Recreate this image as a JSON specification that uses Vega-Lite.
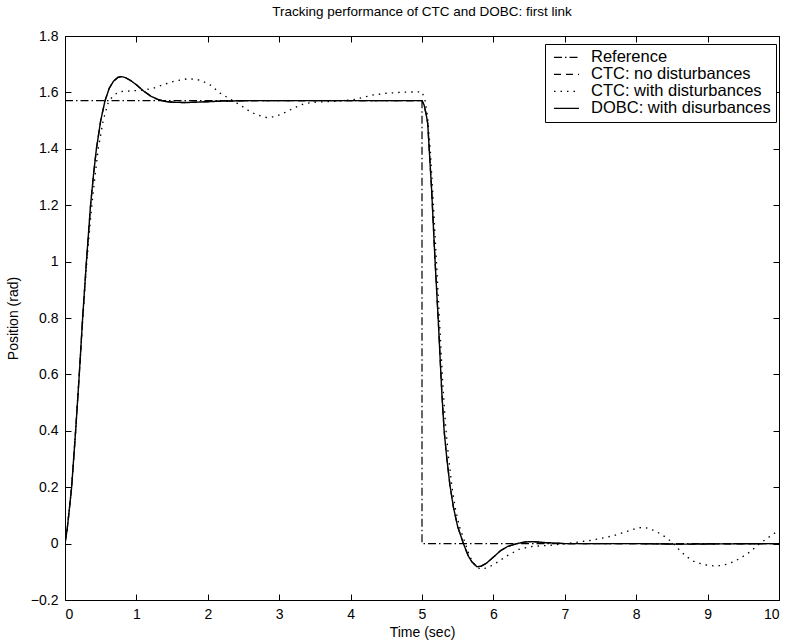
{
  "$schema": "https://vega.github.io/schema/vega-lite/v6.json",
  "width": 714,
  "height": 564,
  "autosize": {"type": "none"},
  "padding": {"left": 65, "top": 36, "right": 8, "bottom": 42},
  "background": "white",
  "title": {"text": "Tracking performance of CTC and DOBC: first link", "font": "Liberation Sans", "fontSize": 13.5, "fontWeight": "normal", "color": "black", "offset": 11},
  "config": {
    "view": {"stroke": null},
    "axis": {"grid": false, "domainColor": "black", "domainWidth": 1, "tickColor": "black", "tickSize": -6, "tickWidth": 1, "labelColor": "black", "labelFont": "Liberation Sans", "labelFontSize": 14, "labelPadding": 13, "titleFont": "Liberation Sans", "titleFontSize": 14, "titleFontWeight": "normal", "titleColor": "black"},
    "legend": {"orient": "none", "legendX": 480, "legendY": 8, "strokeColor": "black", "fillColor": "white", "padding": 5, "symbolType": "stroke", "symbolSize": 625, "symbolStrokeColor": "black", "symbolOpacity": 1, "labelFont": "Liberation Sans", "labelFontSize": 16.5, "labelColor": "black", "labelOffset": 11, "rowPadding": 0, "clipHeight": 16.7, "symbolOffset": 3, "labelLimit": 300, "cornerRadius": 0}
  },
  "data": {"values": [
    {"s": "Reference", "t": 0, "v": 1.5708},
    {"s": "Reference", "t": 5, "v": 1.5708},
    {"s": "Reference", "t": 5, "v": 0},
    {"s": "Reference", "t": 10, "v": 0},

    {"s": "CTC: no disturbances", "t": 0, "v": 0},
    {"s": "CTC: no disturbances", "t": 0.03, "v": 0.05},
    {"s": "CTC: no disturbances", "t": 0.06, "v": 0.12},
    {"s": "CTC: no disturbances", "t": 0.093, "v": 0.2},
    {"s": "CTC: no disturbances", "t": 0.149, "v": 0.4},
    {"s": "CTC: no disturbances", "t": 0.2, "v": 0.6},
    {"s": "CTC: no disturbances", "t": 0.247, "v": 0.8},
    {"s": "CTC: no disturbances", "t": 0.3, "v": 1.0},
    {"s": "CTC: no disturbances", "t": 0.358, "v": 1.2},
    {"s": "CTC: no disturbances", "t": 0.4, "v": 1.31},
    {"s": "CTC: no disturbances", "t": 0.44, "v": 1.4},
    {"s": "CTC: no disturbances", "t": 0.5, "v": 1.5},
    {"s": "CTC: no disturbances", "t": 0.56, "v": 1.57},
    {"s": "CTC: no disturbances", "t": 0.62, "v": 1.615},
    {"s": "CTC: no disturbances", "t": 0.68, "v": 1.64},
    {"s": "CTC: no disturbances", "t": 0.74, "v": 1.653},
    {"s": "CTC: no disturbances", "t": 0.79, "v": 1.656},
    {"s": "CTC: no disturbances", "t": 0.85, "v": 1.652},
    {"s": "CTC: no disturbances", "t": 0.92, "v": 1.642},
    {"s": "CTC: no disturbances", "t": 1.0, "v": 1.627},
    {"s": "CTC: no disturbances", "t": 1.1, "v": 1.605},
    {"s": "CTC: no disturbances", "t": 1.2, "v": 1.587},
    {"s": "CTC: no disturbances", "t": 1.3, "v": 1.575},
    {"s": "CTC: no disturbances", "t": 1.4, "v": 1.568},
    {"s": "CTC: no disturbances", "t": 1.52, "v": 1.565},
    {"s": "CTC: no disturbances", "t": 1.7, "v": 1.564},
    {"s": "CTC: no disturbances", "t": 1.9, "v": 1.566},
    {"s": "CTC: no disturbances", "t": 2.2, "v": 1.569},
    {"s": "CTC: no disturbances", "t": 2.6, "v": 1.5708},
    {"s": "CTC: no disturbances", "t": 5.0, "v": 1.5708},
    {"s": "CTC: no disturbances", "t": 5.03, "v": 1.555},
    {"s": "CTC: no disturbances", "t": 5.06, "v": 1.52},
    {"s": "CTC: no disturbances", "t": 5.08, "v": 1.49},
    {"s": "CTC: no disturbances", "t": 5.135, "v": 1.254},
    {"s": "CTC: no disturbances", "t": 5.18, "v": 1.017},
    {"s": "CTC: no disturbances", "t": 5.23, "v": 0.78},
    {"s": "CTC: no disturbances", "t": 5.276, "v": 0.543},
    {"s": "CTC: no disturbances", "t": 5.31, "v": 0.4},
    {"s": "CTC: no disturbances", "t": 5.346, "v": 0.306},
    {"s": "CTC: no disturbances", "t": 5.39, "v": 0.21},
    {"s": "CTC: no disturbances", "t": 5.44, "v": 0.129},
    {"s": "CTC: no disturbances", "t": 5.5, "v": 0.06},
    {"s": "CTC: no disturbances", "t": 5.58, "v": 0.0},
    {"s": "CTC: no disturbances", "t": 5.65, "v": -0.045},
    {"s": "CTC: no disturbances", "t": 5.7, "v": -0.065},
    {"s": "CTC: no disturbances", "t": 5.77, "v": -0.082},
    {"s": "CTC: no disturbances", "t": 5.83, "v": -0.08},
    {"s": "CTC: no disturbances", "t": 5.9, "v": -0.07},
    {"s": "CTC: no disturbances", "t": 6.0, "v": -0.048},
    {"s": "CTC: no disturbances", "t": 6.1, "v": -0.025},
    {"s": "CTC: no disturbances", "t": 6.2, "v": -0.01},
    {"s": "CTC: no disturbances", "t": 6.33, "v": 0.0},
    {"s": "CTC: no disturbances", "t": 6.45, "v": 0.006},
    {"s": "CTC: no disturbances", "t": 6.56, "v": 0.007},
    {"s": "CTC: no disturbances", "t": 6.7, "v": 0.004},
    {"s": "CTC: no disturbances", "t": 7.0, "v": 0.0},
    {"s": "CTC: no disturbances", "t": 8.0, "v": 0.0},
    {"s": "CTC: no disturbances", "t": 8.6, "v": -0.002},
    {"s": "CTC: no disturbances", "t": 9.2, "v": -0.001},
    {"s": "CTC: no disturbances", "t": 10.0, "v": 0.0},

    {"s": "CTC: with disturbances", "t": 0, "v": 0},
    {"s": "CTC: with disturbances", "t": 0.03, "v": 0.05},
    {"s": "CTC: with disturbances", "t": 0.06, "v": 0.12},
    {"s": "CTC: with disturbances", "t": 0.093, "v": 0.2},
    {"s": "CTC: with disturbances", "t": 0.149, "v": 0.4},
    {"s": "CTC: with disturbances", "t": 0.2, "v": 0.6},
    {"s": "CTC: with disturbances", "t": 0.25, "v": 0.8},
    {"s": "CTC: with disturbances", "t": 0.3, "v": 0.98},
    {"s": "CTC: with disturbances", "t": 0.36, "v": 1.16},
    {"s": "CTC: with disturbances", "t": 0.41, "v": 1.28},
    {"s": "CTC: with disturbances", "t": 0.465, "v": 1.4},
    {"s": "CTC: with disturbances", "t": 0.535, "v": 1.5},
    {"s": "CTC: with disturbances", "t": 0.6, "v": 1.56},
    {"s": "CTC: with disturbances", "t": 0.65, "v": 1.58},
    {"s": "CTC: with disturbances", "t": 0.7, "v": 1.593},
    {"s": "CTC: with disturbances", "t": 0.77, "v": 1.603},
    {"s": "CTC: with disturbances", "t": 0.96, "v": 1.606},
    {"s": "CTC: with disturbances", "t": 1.1, "v": 1.608},
    {"s": "CTC: with disturbances", "t": 1.24, "v": 1.615},
    {"s": "CTC: with disturbances", "t": 1.38, "v": 1.628},
    {"s": "CTC: with disturbances", "t": 1.52, "v": 1.639},
    {"s": "CTC: with disturbances", "t": 1.71, "v": 1.648},
    {"s": "CTC: with disturbances", "t": 1.82, "v": 1.647},
    {"s": "CTC: with disturbances", "t": 1.91, "v": 1.642},
    {"s": "CTC: with disturbances", "t": 2.05, "v": 1.624},
    {"s": "CTC: with disturbances", "t": 2.17, "v": 1.598},
    {"s": "CTC: with disturbances", "t": 2.3, "v": 1.578},
    {"s": "CTC: with disturbances", "t": 2.45, "v": 1.556},
    {"s": "CTC: with disturbances", "t": 2.58, "v": 1.534},
    {"s": "CTC: with disturbances", "t": 2.68, "v": 1.521},
    {"s": "CTC: with disturbances", "t": 2.82, "v": 1.511},
    {"s": "CTC: with disturbances", "t": 2.94, "v": 1.514},
    {"s": "CTC: with disturbances", "t": 3.06, "v": 1.526},
    {"s": "CTC: with disturbances", "t": 3.2, "v": 1.544},
    {"s": "CTC: with disturbances", "t": 3.34, "v": 1.559},
    {"s": "CTC: with disturbances", "t": 3.48, "v": 1.565},
    {"s": "CTC: with disturbances", "t": 3.62, "v": 1.567},
    {"s": "CTC: with disturbances", "t": 3.8, "v": 1.569},
    {"s": "CTC: with disturbances", "t": 4.04, "v": 1.574},
    {"s": "CTC: with disturbances", "t": 4.18, "v": 1.583},
    {"s": "CTC: with disturbances", "t": 4.32, "v": 1.591},
    {"s": "CTC: with disturbances", "t": 4.5, "v": 1.597},
    {"s": "CTC: with disturbances", "t": 4.74, "v": 1.601},
    {"s": "CTC: with disturbances", "t": 5.0, "v": 1.602},
    {"s": "CTC: with disturbances", "t": 5.04, "v": 1.575},
    {"s": "CTC: with disturbances", "t": 5.08, "v": 1.51},
    {"s": "CTC: with disturbances", "t": 5.12, "v": 1.38},
    {"s": "CTC: with disturbances", "t": 5.16, "v": 1.2},
    {"s": "CTC: with disturbances", "t": 5.2, "v": 1.01},
    {"s": "CTC: with disturbances", "t": 5.245, "v": 0.79},
    {"s": "CTC: with disturbances", "t": 5.29, "v": 0.57},
    {"s": "CTC: with disturbances", "t": 5.33, "v": 0.42},
    {"s": "CTC: with disturbances", "t": 5.37, "v": 0.31},
    {"s": "CTC: with disturbances", "t": 5.42, "v": 0.2},
    {"s": "CTC: with disturbances", "t": 5.47, "v": 0.12},
    {"s": "CTC: with disturbances", "t": 5.53, "v": 0.055},
    {"s": "CTC: with disturbances", "t": 5.6, "v": 0.005},
    {"s": "CTC: with disturbances", "t": 5.66, "v": -0.04},
    {"s": "CTC: with disturbances", "t": 5.72, "v": -0.07},
    {"s": "CTC: with disturbances", "t": 5.81, "v": -0.09},
    {"s": "CTC: with disturbances", "t": 5.9, "v": -0.087},
    {"s": "CTC: with disturbances", "t": 6.0, "v": -0.075},
    {"s": "CTC: with disturbances", "t": 6.09, "v": -0.06},
    {"s": "CTC: with disturbances", "t": 6.2, "v": -0.042},
    {"s": "CTC: with disturbances", "t": 6.37, "v": -0.019},
    {"s": "CTC: with disturbances", "t": 6.55, "v": -0.01},
    {"s": "CTC: with disturbances", "t": 6.79, "v": -0.006},
    {"s": "CTC: with disturbances", "t": 7.03, "v": 0.0},
    {"s": "CTC: with disturbances", "t": 7.2, "v": 0.006},
    {"s": "CTC: with disturbances", "t": 7.35, "v": 0.011},
    {"s": "CTC: with disturbances", "t": 7.5, "v": 0.018},
    {"s": "CTC: with disturbances", "t": 7.68, "v": 0.028},
    {"s": "CTC: with disturbances", "t": 7.85, "v": 0.042},
    {"s": "CTC: with disturbances", "t": 8.01, "v": 0.055},
    {"s": "CTC: with disturbances", "t": 8.1, "v": 0.058},
    {"s": "CTC: with disturbances", "t": 8.19, "v": 0.053},
    {"s": "CTC: with disturbances", "t": 8.3, "v": 0.04},
    {"s": "CTC: with disturbances", "t": 8.43, "v": 0.02},
    {"s": "CTC: with disturbances", "t": 8.52, "v": 0.0},
    {"s": "CTC: with disturbances", "t": 8.61, "v": -0.024},
    {"s": "CTC: with disturbances", "t": 8.7, "v": -0.045},
    {"s": "CTC: with disturbances", "t": 8.8, "v": -0.062},
    {"s": "CTC: with disturbances", "t": 8.9, "v": -0.071},
    {"s": "CTC: with disturbances", "t": 8.99, "v": -0.076},
    {"s": "CTC: with disturbances", "t": 9.08, "v": -0.079},
    {"s": "CTC: with disturbances", "t": 9.17, "v": -0.078},
    {"s": "CTC: with disturbances", "t": 9.27, "v": -0.073},
    {"s": "CTC: with disturbances", "t": 9.36, "v": -0.065},
    {"s": "CTC: with disturbances", "t": 9.47, "v": -0.05},
    {"s": "CTC: with disturbances", "t": 9.59, "v": -0.03},
    {"s": "CTC: with disturbances", "t": 9.73, "v": 0.0},
    {"s": "CTC: with disturbances", "t": 9.87, "v": 0.025},
    {"s": "CTC: with disturbances", "t": 10.0, "v": 0.048},

    {"s": "DOBC: with disurbances", "t": 0, "v": 0},
    {"s": "DOBC: with disurbances", "t": 0.03, "v": 0.05},
    {"s": "DOBC: with disurbances", "t": 0.06, "v": 0.12},
    {"s": "DOBC: with disurbances", "t": 0.093, "v": 0.2},
    {"s": "DOBC: with disurbances", "t": 0.149, "v": 0.4},
    {"s": "DOBC: with disurbances", "t": 0.2, "v": 0.6},
    {"s": "DOBC: with disurbances", "t": 0.247, "v": 0.8},
    {"s": "DOBC: with disurbances", "t": 0.3, "v": 1.0},
    {"s": "DOBC: with disurbances", "t": 0.358, "v": 1.2},
    {"s": "DOBC: with disurbances", "t": 0.4, "v": 1.31},
    {"s": "DOBC: with disurbances", "t": 0.44, "v": 1.4},
    {"s": "DOBC: with disurbances", "t": 0.5, "v": 1.5},
    {"s": "DOBC: with disurbances", "t": 0.56, "v": 1.57},
    {"s": "DOBC: with disurbances", "t": 0.62, "v": 1.615},
    {"s": "DOBC: with disurbances", "t": 0.68, "v": 1.64},
    {"s": "DOBC: with disurbances", "t": 0.74, "v": 1.653},
    {"s": "DOBC: with disurbances", "t": 0.79, "v": 1.656},
    {"s": "DOBC: with disurbances", "t": 0.85, "v": 1.652},
    {"s": "DOBC: with disurbances", "t": 0.92, "v": 1.642},
    {"s": "DOBC: with disurbances", "t": 1.0, "v": 1.627},
    {"s": "DOBC: with disurbances", "t": 1.1, "v": 1.605},
    {"s": "DOBC: with disurbances", "t": 1.2, "v": 1.587},
    {"s": "DOBC: with disurbances", "t": 1.3, "v": 1.575},
    {"s": "DOBC: with disurbances", "t": 1.4, "v": 1.568},
    {"s": "DOBC: with disurbances", "t": 1.52, "v": 1.565},
    {"s": "DOBC: with disurbances", "t": 1.7, "v": 1.564},
    {"s": "DOBC: with disurbances", "t": 1.9, "v": 1.566},
    {"s": "DOBC: with disurbances", "t": 2.2, "v": 1.569},
    {"s": "DOBC: with disurbances", "t": 2.6, "v": 1.5708},
    {"s": "DOBC: with disurbances", "t": 5.0, "v": 1.5708},
    {"s": "DOBC: with disurbances", "t": 5.03, "v": 1.555},
    {"s": "DOBC: with disurbances", "t": 5.06, "v": 1.52},
    {"s": "DOBC: with disurbances", "t": 5.08, "v": 1.49},
    {"s": "DOBC: with disurbances", "t": 5.135, "v": 1.254},
    {"s": "DOBC: with disurbances", "t": 5.18, "v": 1.017},
    {"s": "DOBC: with disurbances", "t": 5.23, "v": 0.78},
    {"s": "DOBC: with disurbances", "t": 5.276, "v": 0.543},
    {"s": "DOBC: with disurbances", "t": 5.31, "v": 0.4},
    {"s": "DOBC: with disurbances", "t": 5.346, "v": 0.306},
    {"s": "DOBC: with disurbances", "t": 5.39, "v": 0.21},
    {"s": "DOBC: with disurbances", "t": 5.44, "v": 0.129},
    {"s": "DOBC: with disurbances", "t": 5.5, "v": 0.06},
    {"s": "DOBC: with disurbances", "t": 5.58, "v": 0.0},
    {"s": "DOBC: with disurbances", "t": 5.65, "v": -0.045},
    {"s": "DOBC: with disurbances", "t": 5.7, "v": -0.065},
    {"s": "DOBC: with disurbances", "t": 5.77, "v": -0.082},
    {"s": "DOBC: with disurbances", "t": 5.83, "v": -0.08},
    {"s": "DOBC: with disurbances", "t": 5.9, "v": -0.07},
    {"s": "DOBC: with disurbances", "t": 6.0, "v": -0.048},
    {"s": "DOBC: with disurbances", "t": 6.1, "v": -0.025},
    {"s": "DOBC: with disurbances", "t": 6.2, "v": -0.01},
    {"s": "DOBC: with disurbances", "t": 6.33, "v": 0.0},
    {"s": "DOBC: with disurbances", "t": 6.45, "v": 0.006},
    {"s": "DOBC: with disurbances", "t": 6.56, "v": 0.007},
    {"s": "DOBC: with disurbances", "t": 6.7, "v": 0.004},
    {"s": "DOBC: with disurbances", "t": 7.0, "v": 0.0},
    {"s": "DOBC: with disurbances", "t": 8.0, "v": 0.0},
    {"s": "DOBC: with disurbances", "t": 8.6, "v": -0.002},
    {"s": "DOBC: with disurbances", "t": 9.2, "v": -0.001},
    {"s": "DOBC: with disurbances", "t": 10.0, "v": 0.0}
  ]},
  "layer": [
    {
      "mark": {"type": "line", "color": "black", "clip": true},
      "encoding": {
        "x": {"field": "t", "type": "quantitative", "scale": {"domain": [0, 10], "nice": false, "zero": false},
              "axis": {"orient": "bottom", "values": [0,1,2,3,4,5,6,7,8,9,10], "title": "Time (sec)", "titlePadding": 4}},
        "y": {"field": "v", "type": "quantitative", "scale": {"domain": [-0.2, 1.8], "nice": false, "zero": false},
              "axis": {"orient": "left", "values": [-0.2,0,0.2,0.4,0.6,0.8,1,1.2,1.4,1.6,1.8], "format": "~f", "title": "Position (rad)", "titlePadding": 10}},
        "strokeDash": {"field": "s", "type": "nominal", "title": null,
              "scale": {"domain": ["Reference", "CTC: no disturbances", "CTC: with disturbances", "DOBC: with disurbances"],
                        "range": [[8,3,1.5,3],[7,5],[1.5,5],[1,0]]}},
        "strokeWidth": {"field": "s", "type": "nominal", "title": null,
              "scale": {"domain": ["Reference", "CTC: no disturbances", "CTC: with disturbances", "DOBC: with disurbances"],
                        "range": [1.2, 1.4, 1.3, 2]}}
      }
    },
    {
      "mark": {"type": "point", "opacity": 0, "size": 0},
      "encoding": {
        "x": {"field": "t", "type": "quantitative", "axis": {"orient": "top", "values": [0,1,2,3,4,5,6,7,8,9,10], "labels": false, "title": null}},
        "y": {"field": "v", "type": "quantitative", "axis": {"orient": "right", "values": [-0.2,0,0.2,0.4,0.6,0.8,1,1.2,1.4,1.6,1.8], "labels": false, "title": null}}
      }
    }
  ],
  "resolve": {"axis": {"x": "independent", "y": "independent"}}
}
